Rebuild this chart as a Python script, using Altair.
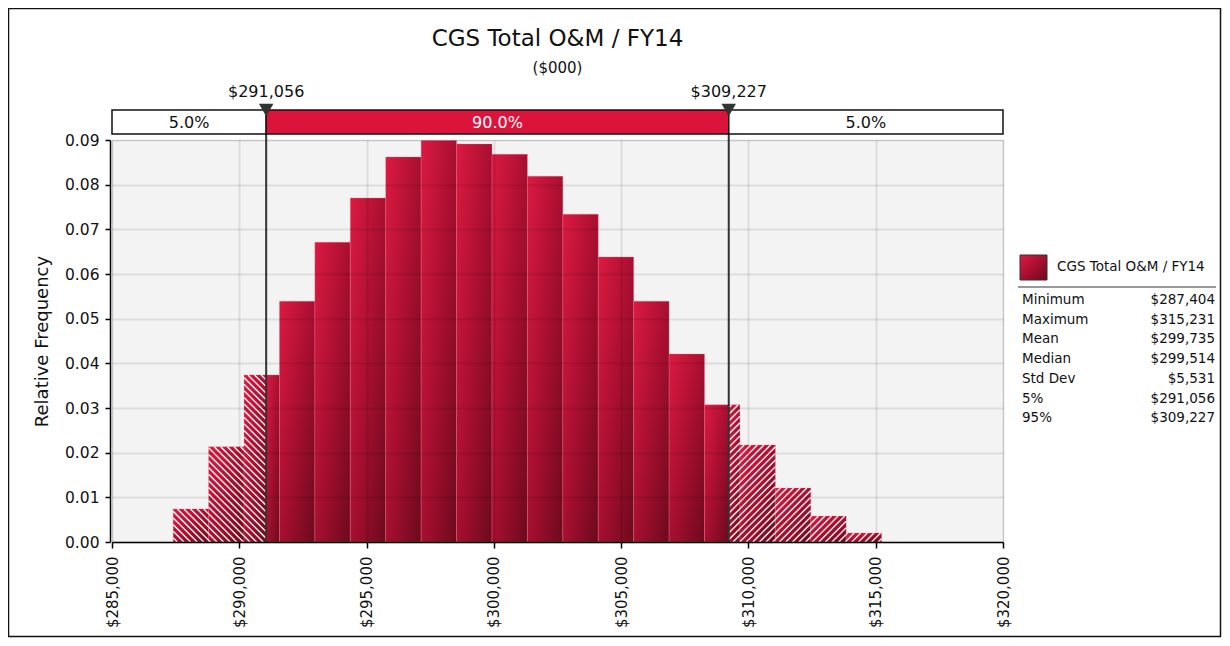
import altair as alt
import pandas as pd

# ---------------- data ----------------
title_text = "CGS Total O&M / FY14"
subtitle_text = "($000)"
series_name = "CGS Total O&M / FY14"
y_title = "Relative Frequency"

data_min = 287404
data_max = 315231
p5 = 291056
p95 = 309227
n_bins = 20
freqs = [0.0074, 0.0213, 0.0374, 0.0539, 0.0671, 0.0770, 0.0862, 0.0899, 0.0891, 0.0868,
         0.0819, 0.0734, 0.0638, 0.0539, 0.0421, 0.0307, 0.0217, 0.0121, 0.0058, 0.0020]

x_ticks = [285000, 290000, 295000, 300000, 305000, 310000, 315000, 320000]
y_ticks = [0.00, 0.01, 0.02, 0.03, 0.04, 0.05, 0.06, 0.07, 0.08, 0.09]
band_labels = ["5.0%", "90.0%", "5.0%"]
stat_labels = ["Minimum", "Maximum", "Mean", "Median", "Std Dev", "5%", "95%"]
stat_values = ["$287,404", "$315,231", "$299,735", "$299,514", "$5,531", "$291,056", "$309,227"]

# ---------------- layout ----------------
W, H = 891, 402
XMIN, XMAX = x_ticks[0], x_ticks[-1]
YMIN, YMAX = y_ticks[0], y_ticks[-1]
FONT = "DejaVu Sans"
sx = W / (XMAX - XMIN)
sy = H / (YMAX - YMIN)

# ---------------- derived tables ----------------
bw = (data_max - data_min) / n_bins
solid, hatched = [], []
for i, f in enumerate(freqs):
    lo = data_min + i * bw
    hi = lo + bw
    s0, s1 = max(lo, p5), min(hi, p95)
    if s1 > s0:
        solid.append({"x0": s0, "x1": s1, "f": f})
    if lo < p5:
        hatched.append({"x0": lo, "x1": min(hi, p5), "f": f, "side": "L"})
    if hi > p95:
        hatched.append({"x0": max(lo, p95), "x1": hi, "f": f, "side": "R"})
solid_df = pd.DataFrame(solid)
hatch_df = pd.DataFrame(hatched)

# hatch stripes (pixel geometry derived from the hatched bars, mapped back to data units)
step = 6.6
lines = []
for h in hatched:
    X0 = (h["x0"] - XMIN) * sx
    X1 = (h["x1"] - XMIN) * sx
    Yt = H - h["f"] * sy
    Yb = float(H)
    if h["side"] == "L":
        k0 = int((X0 - Yb) // step) - 1
        k1 = int((X1 - Yt) // step) + 1
        for k in range(k0, k1 + 1):
            c = k * step
            xa, xb = max(X0, Yt + c), min(X1, Yb + c)
            if xb - xa > 0.3:
                lines.append({"xa": xa, "ya": xa - c, "xb": xb, "yb": xb - c})
    else:
        k0 = int((X0 + Yt) // step) - 1
        k1 = int((X1 + Yb) // step) + 1
        for k in range(k0, k1 + 1):
            c = k * step
            xa, xb = max(X0, c - Yb), min(X1, c - Yt)
            if xb - xa > 0.3:
                lines.append({"xa": xa, "ya": c - xa, "xb": xb, "yb": c - xb})
lines_df = pd.DataFrame(lines)
lines_df["dxa"] = XMIN + lines_df["xa"] / sx
lines_df["dxb"] = XMIN + lines_df["xb"] / sx
lines_df["dya"] = (H - lines_df["ya"]) / sy
lines_df["dyb"] = (H - lines_df["yb"]) / sy

band_df = pd.DataFrame({
    "x0": [XMIN, p5, p95],
    "x1": [p5, p95, XMAX],
    "lab": band_labels,
    "fill": ["white", "#dc143c", "white"],
    "tc": ["#111111", "white", "#111111"],
})
band_df["xm"] = (band_df["x0"] + band_df["x1"]) / 2

marks_df = pd.DataFrame({"x": [p5, p95]})
stats_df = pd.DataFrame({"lab": stat_labels, "val": stat_values})
stats_df["py"] = [160 + i * 19.7 for i in range(len(stats_df))]

one = pd.DataFrame({"t": [title_text], "s": [subtitle_text], "n": [series_name]})

bar_grad = alt.Gradient(
    gradient="linear", x1=0, y1=0, x2=1, y2=1,
    stops=[alt.GradientStop(color="#dc1a42", offset=0),
           alt.GradientStop(color="#a80f30", offset=0.5),
           alt.GradientStop(color="#6c0a1c", offset=1)])

x_axis = alt.Axis(values=x_ticks, format="$,.0f", labelAngle=270, labelAlign="right",
                  labelBaseline="middle", labelFontSize=15, labelColor="#111111",
                  labelPadding=8, tickSize=6, tickColor="#000000", domainColor="#000000",
                  domainWidth=1.5, tickWidth=1.5, grid=True, gridColor="#000000",
                  gridOpacity=0.09, gridWidth=2, title=None, zindex=1, labelFlush=False)
y_axis = alt.Axis(values=y_ticks, format=".2f", labelFontSize=15.5, labelColor="#111111",
                  labelPadding=6, tickSize=5, tickColor="#000000", domainColor="#000000",
                  domainWidth=1.5, tickWidth=1.5, offset=2, grid=True, gridColor="#000000",
                  gridOpacity=0.09, gridWidth=2, title=y_title, titleFontSize=18,
                  titleFontWeight="normal", titleColor="#111111", titlePadding=13, zindex=1)

xs = alt.Scale(domain=[XMIN, XMAX], nice=False, zero=False)
ys = alt.Scale(domain=[YMIN, YMAX], nice=False)

bars = alt.Chart(solid_df).mark_rect(color=bar_grad, stroke="#f07088", strokeWidth=0.6,
                                     strokeOpacity=0.5).encode(
    x=alt.X("x0:Q", scale=xs, axis=x_axis), x2="x1:Q",
    y=alt.Y("f:Q", scale=ys, axis=y_axis), y2=alt.datum(0))

hbars = alt.Chart(hatch_df).mark_rect(color=bar_grad, stroke="#f07088", strokeWidth=0.6,
                                      strokeOpacity=0.5).encode(
    x="x0:Q", x2="x1:Q", y="f:Q", y2=alt.datum(0))

stripes = alt.Chart(lines_df).mark_rule(color="white", strokeWidth=1.5, opacity=0.9).encode(
    x="dxa:Q", x2="dxb:Q", y="dya:Q", y2="dyb:Q")

vlines = alt.Chart(marks_df).mark_rule(color="#333333", strokeWidth=2).encode(
    x="x:Q", y=alt.value(-24), y2=alt.value(H))

band = alt.Chart(band_df).mark_rect(stroke="#111111", strokeWidth=1.5).encode(
    x="x0:Q", x2="x1:Q", y=alt.value(-30), y2=alt.value(-6),
    fill=alt.Fill("fill:N", scale=None))

band_txt = alt.Chart(band_df).mark_text(fontSize=16, font=FONT, baseline="middle").encode(
    x="xm:Q", y=alt.value(-17.5), text="lab:N", color=alt.Color("tc:N", scale=None))

tri = alt.Chart(marks_df).mark_point(shape="triangle-down", filled=True, size=210,
                                     color="#333333", opacity=1).encode(
    x="x:Q", y=alt.value(-30))

mark_lab = alt.Chart(marks_df).mark_text(fontSize=16, font=FONT, color="#111111",
                                         baseline="middle").encode(
    x="x:Q", y=alt.value(-48), text=alt.Text("x:Q", format="$,.0f"))

title = alt.Chart(one).mark_text(fontSize=23, font=FONT, color="#111111",
                                 baseline="middle").encode(
    x=alt.value(W / 2), y=alt.value(-101), text="t:N")
subtitle = alt.Chart(one).mark_text(fontSize=15, font=FONT, color="#111111",
                                    baseline="middle").encode(
    x=alt.value(W / 2), y=alt.value(-72), text="s:N")

swatch = alt.Chart(one).mark_rect(color=bar_grad, stroke="#333333", strokeWidth=1).encode(
    x=alt.value(908), x2=alt.value(935), y=alt.value(115), y2=alt.value(140))
leg_lab = alt.Chart(one).mark_text(fontSize=13.5, font=FONT, color="#111111", align="left",
                                   baseline="middle").encode(
    x=alt.value(945), y=alt.value(127), text="n:N")
leg_line = alt.Chart(one).mark_rule(color="#999999", strokeWidth=2).encode(
    x=alt.value(906), x2=alt.value(1104), y=alt.value(147))
stat_l = alt.Chart(stats_df).mark_text(fontSize=13.5, font=FONT, color="#111111", align="left",
                                       baseline="middle").encode(
    x=alt.value(910), y=alt.Y("py:Q", scale=None), text="lab:N")
stat_v = alt.Chart(stats_df).mark_text(fontSize=13.5, font=FONT, color="#111111", align="right",
                                       baseline="middle").encode(
    x=alt.value(1103), y=alt.Y("py:Q", scale=None), text="val:N")

frame = alt.Chart(one).mark_rect(fill="transparent", stroke="#111111", strokeWidth=1.5).encode(
    x=alt.value(-103.5), x2=alt.value(1108.5), y=alt.value(-131.5), y2=alt.value(496.5))

chart = alt.layer(
    bars, hbars, stripes, vlines, band, band_txt, tri, mark_lab, title, subtitle,
    swatch, leg_lab, leg_line, stat_l, stat_v, frame
).properties(
    width=W, height=H,
    autosize=alt.AutoSizeParams(type="none"),
    padding={"left": 104, "top": 132, "right": 219, "bottom": 96},
).configure(font=FONT, background="white").configure_view(
    fill="#f3f3f3", stroke="#d9d9d9", strokeWidth=1)

chart.save("out.html", embed_options={"renderer": "svg", "actions": False})
